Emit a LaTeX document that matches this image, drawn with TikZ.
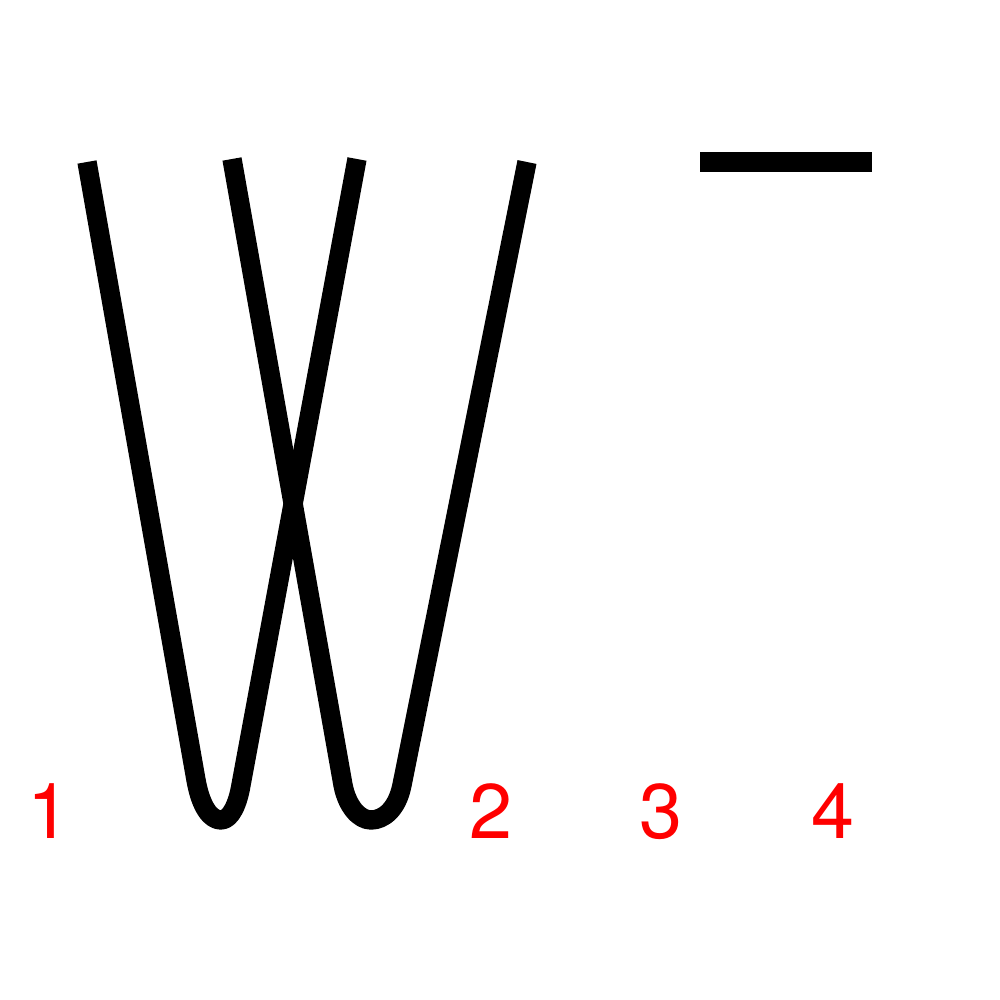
\documentclass[tikz,border=0pt]{standalone}
\usepackage{fontspec}
\usepackage{tikz}
\usepackage{xcolor}
\setsansfont{TeX Gyre Heros}
\usetikzlibrary{positioning, calc}
\definecolor{cLabel}{HTML}{FF0000}
\definecolor{cInk}  {HTML}{000000}
\tikzset{
  strand/.style={draw=cInk, line width=5.5pt, line cap=butt, line join=round},
  numlabel/.style={font=\sffamily\fontsize{22}{26}\selectfont, text=cLabel, anchor=base, inner sep=0pt},
}
\begin{document}
\begin{tikzpicture}[x=0.01cm, y=-0.01cm]
        \useasboundingbox (0,0) rectangle (1000,1000);
        % first loop
        \draw[strand] (87,162) -- (196,780)
              .. controls (201,808) and (211,820) .. (221,820)
              .. controls (231,820) and (238,803) .. (241,785) -- (357,159);
        % second loop
        \draw[strand] (232,159) -- (343,785)
              .. controls (347,806) and (359,820) .. (371,820)
              .. controls (383,820) and (397,810) .. (402,785) -- (527,162);
        % bar
        \draw[strand] (700,162) -- (872,162);
        \node[numlabel] (n1) at (49,838) {1};
        \node[numlabel] (n2) at (491,838) {2};
        \node[numlabel] (n3) at (661,838) {3};
        \node[numlabel] (n4) at (833,838) {4};
      \end{tikzpicture}
\end{document}
